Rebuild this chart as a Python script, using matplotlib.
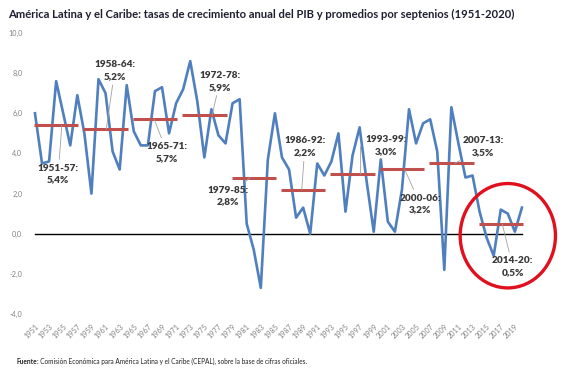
import numpy as np
import matplotlib
matplotlib.use("Agg")
import matplotlib.pyplot as plt
from matplotlib.patches import Ellipse

plt.rcParams['font.family'] = ['Lato', 'DejaVu Sans']

years = np.arange(1951, 2021)
growth = [6.0, 3.5, 3.6, 7.6, 6.0, 4.4, 6.9, 5.0, 2.0, 7.7,
          7.0, 4.1, 3.2, 7.4, 5.1, 4.4, 4.4, 7.1, 7.3, 5.0,
          6.5, 7.2, 8.6, 6.6, 3.8, 6.2, 4.9, 4.5, 6.5, 6.7,
          0.5, -0.8, -2.7, 3.7, 6.0, 3.8, 3.2, 0.8, 1.3, 0.0,
          3.5, 2.9, 3.6, 5.0, 1.1, 3.9, 5.3, 2.6, 0.1, 3.7,
          0.6, 0.1, 2.2, 6.2, 4.5, 5.5, 5.7, 4.1, -1.8, 6.3,
          4.5, 2.8, 2.9, 1.1, -0.2, -1.1, 1.2, 1.0, 0.1, 1.3]

periods = ['1951-57', '1958-64', '1965-71', '1972-78', '1979-85',
           '1986-92', '1993-99', '2000-06', '2007-13', '2014-20']
period_start = [1951, 1958, 1965, 1972, 1979, 1986, 1993, 2000, 2007, 2014]
averages = [5.4, 5.2, 5.7, 5.9, 2.8, 2.2, 3.0, 3.2, 3.5, 0.5]

# label text position and leader anchor (data coords)
label_xy = [(1954.3, 2.98), (1962.3, 8.13), (1969.7, 4.05), (1977.2, 7.6), (1978.35, 1.88),
            (1989.25, 4.33), (2000.7, 4.38), (2005.55, 1.48), (2014.5, 4.33), (2018.7, -1.63)]
anchor_x = [1954.8, 1961.1, 1967.9, 1976.1, 1981.5, 1988.8, 1997.05, 2003.4, 2010.5, 2017.2]

fig = plt.figure(figsize=(5.72, 3.85), dpi=100)
ax = fig.add_axes([0.0488, 0.1844, 0.876, 0.7299])

ax.plot(years, growth, color='#4f7fbf', lw=1.9, zorder=3)
ax.plot([1951, 2020], [0, 0], color='black', lw=1.0, zorder=2)

for s, a in zip(period_start, averages):
    ax.plot([s - 0.15, s + 6.15], [a, a], color='#c0504d', lw=2.2, zorder=4,
            solid_capstyle='butt')

for i, (p, a) in enumerate(zip(periods, averages)):
    txt = f"{p}:\n{str(a).replace('.', ',')}%"
    cs = "arc3"
    if p == '1993-99':
        cs = "angle,angleA=0,angleB=90,rad=0"
    ax.annotate(txt, xy=(anchor_x[i], a), xytext=label_xy[i],
                ha='center', va='center', fontsize=7.2, fontweight='heavy',
                color='#3a3a3a', linespacing=1.4, zorder=5,
                arrowprops=dict(arrowstyle='-', color='#a0a0a0', lw=0.6,
                                shrinkA=1, shrinkB=0, connectionstyle=cs))

ax.add_patch(Ellipse((2018.0, -0.1), 13.5, 5.2, fill=False, ec='#e0101e',
                     lw=2.4, clip_on=False, zorder=6))

ax.set_xlim(1950, 2021)
ax.set_ylim(-4, 10)
ax.set_yticks(np.arange(-4, 11, 2))
ax.set_yticklabels([f"{v:.1f}".replace('.', ',') for v in np.arange(-4, 11, 2)])
ax.set_xticks(years[::2])
ax.set_xticklabels([str(y) for y in years[::2]], rotation=45, ha='right',
                   rotation_mode='anchor')
ax.tick_params(axis='both', length=0, labelsize=5.2, labelcolor='#808080')
ax.tick_params(axis='y', pad=4)
ax.tick_params(axis='x', pad=6)
for sp in ax.spines.values():
    sp.set_visible(False)

fig.text(0.014, 0.963, "América Latina y el Caribe: tasas de crecimiento anual del PIB y promedios por septenios (1951-2020)",
         fontsize=8.1, fontweight='bold', color='#1f1f33', ha='left', va='center')

t1 = fig.text(0.028, 0.062, "Fuente", fontsize=4.7, fontweight='bold', color='#222222',
              ha='left', va='center')
ax.annotate(": Comisión Económica para América Latina y el Caribe (CEPAL), sobre la base de cifras oficiales.",
            xy=(1, 0), xycoords=t1, va='bottom', ha='left', fontsize=4.7, color='#222222',
            annotation_clip=False)

fig.savefig('out.png', dpi=100)
